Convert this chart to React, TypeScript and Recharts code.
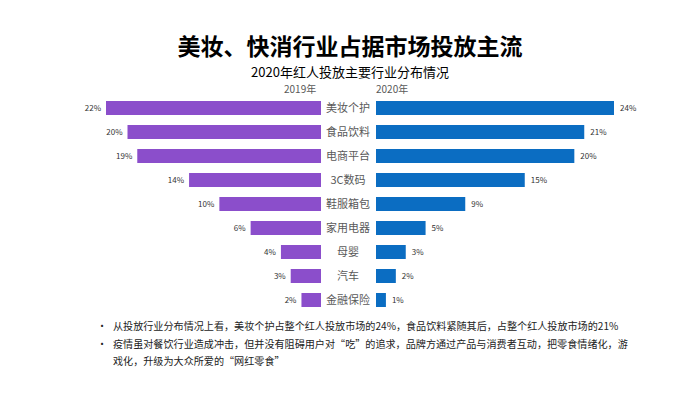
import { Bar, BarChart, LabelList, XAxis, YAxis } from 'recharts';

const categories = ['美妆个护', '食品饮料', '电商平台', '3C数码', '鞋服箱包', '家用电器', '母婴', '汽车', '金融保险'];
const values2019 = [22, 19.8, 18.8, 13.5, 10.4, 7.2, 4.1, 3.1, 2.0];
const labels2019 = ['22%', '20%', '19%', '14%', '10%', '6%', '4%', '3%', '2%'];
const values2020 = [24, 21, 20, 15, 9, 5, 3, 2, 1];
const labels2020 = ['24%', '21%', '20%', '15%', '9%', '5%', '3%', '2%', '1%'];

const title = '美妆、快消行业占据市场投放主流';
const subtitle = '2020年红人投放主要行业分布情况';
const bulletLines = [
  { bullet: true, text: '从投放行业分布情况上看，美妆个护占整个红人投放市场的24%，食品饮料紧随其后，占整个红人投放市场的21%' },
  { bullet: true, text: '疫情虽对餐饮行业造成冲击，但并没有阻碍用户对“吃”的追求，品牌方通过产品与消费者互动，把零食情绪化，游' },
  { bullet: false, text: '戏化，升级为大众所爱的“网红零食”' },
];

const data2019 = categories.map((name, i) => ({ name, value: values2019[i], label: labels2019[i] }));
const data2020 = categories.map((name, i) => ({ name, value: values2020[i], label: labels2020[i] }));

const FONT = '"Noto Sans CJK SC", "Noto Sans", sans-serif';
const PURPLE = '#8B4ECB';
const BLUE = '#0B6DC2';

function LeftLabel(props: any) {
  const { x, y, width, height, value } = props;
  const left = Math.min(x, x + width);
  return (
    <text x={left - 5} y={y + height / 2} dy={3} textAnchor="end" fontSize={8} fill="#333" fontFamily={FONT}>
      {value}
    </text>
  );
}

function RightLabel(props: any) {
  const { x, y, width, height, value } = props;
  const right = Math.max(x, x + width);
  return (
    <text x={right + 6} y={y + height / 2} dy={3} textAnchor="start" fontSize={8} fill="#333" fontFamily={FONT}>
      {value}
    </text>
  );
}

function CategoryTick(props: any) {
  const { y, payload } = props;
  return (
    <text x={28} y={y} dy={4} textAnchor="middle" fontSize={11} fill="#595959" fontFamily={FONT}>
      {payload.value}
    </text>
  );
}

export default function App() {
  return (
    <div style={{ position: 'absolute', left: 0, top: 0, width: 700, height: 393, background: '#fff', fontFamily: FONT, overflow: 'hidden' }}>
      <div style={{ position: 'absolute', left: 0, width: 700, top: 30, textAlign: 'center', fontSize: 23, fontWeight: 700, color: '#000', lineHeight: '30px' }}>
        {title}
      </div>
      <div style={{ position: 'absolute', left: 0, width: 700, top: 63, textAlign: 'center', fontSize: 13, color: '#000', lineHeight: '18px' }}>
        {subtitle}
      </div>
      <div style={{ position: 'absolute', left: 284, top: 82, fontSize: 10, color: '#595959', lineHeight: '14px' }}>2019年</div>
      <div style={{ position: 'absolute', left: 376, top: 82, fontSize: 10, color: '#595959', lineHeight: '14px' }}>2020年</div>

      <div style={{ position: 'absolute', left: 70, top: 90 }}>
        <BarChart width={251} height={230} data={data2019} layout="vertical" margin={{ top: 6, right: 0, bottom: 8, left: 36 }}>
          <XAxis type="number" domain={[0, 22]} reversed hide />
          <YAxis type="category" dataKey="name" hide />
          <Bar dataKey="value" fill={PURPLE} barSize={14} isAnimationActive={false}>
            <LabelList dataKey="label" content={LeftLabel} />
          </Bar>
        </BarChart>
      </div>

      <div style={{ position: 'absolute', left: 320, top: 90 }}>
        <BarChart width={330} height={230} data={data2020} layout="vertical" margin={{ top: 6, right: 36, bottom: 8, left: 0 }}>
          <XAxis type="number" domain={[0, 24]} hide />
          <YAxis type="category" dataKey="name" width={56} axisLine={false} tickLine={false} tick={CategoryTick} interval={0} />
          <Bar dataKey="value" fill={BLUE} barSize={14} isAnimationActive={false}>
            <LabelList dataKey="label" content={RightLabel} />
          </Bar>
        </BarChart>
      </div>

      <div style={{ position: 'absolute', left: 97, top: 317, fontSize: 10.1, color: '#222', lineHeight: '17.5px' }}>
        {bulletLines.map((l, i) => (
          <div key={i} style={{ display: 'flex', whiteSpace: 'nowrap' }}>
            <span style={{ width: 16, display: 'inline-block' }}>{l.bullet ? '•' : ''}</span>
            <span>{l.text}</span>
          </div>
        ))}
      </div>
    </div>
  );
}
